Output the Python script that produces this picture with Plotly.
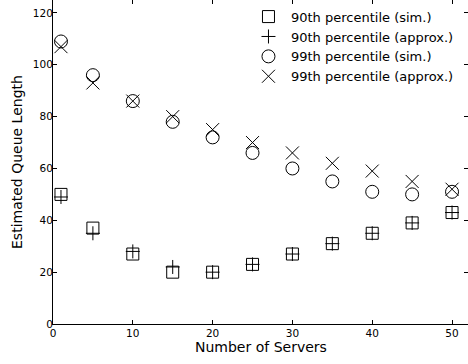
import plotly.graph_objects as go

servers = [1, 5, 10, 15, 20, 25, 30, 35, 40, 45, 50]
p90_sim = [50, 37, 27, 20, 20, 23, 27, 31, 35, 39, 43]
p90_approx = [49, 35, 28, 22, 20, 23, 27, 31, 35, 39, 43]
p99_sim = [109, 96, 86, 78, 72, 66, 60, 55, 51, 50, 51]
p99_approx = [107, 93, 86, 80, 75, 70, 66, 62, 59, 55, 52]

x_ticks = [0, 10, 20, 30, 40, 50]
y_ticks = [0, 20, 40, 60, 80, 100, 120]

series = [
    ("90th percentile (sim.)", p90_sim, "square-open", 12),
    ("90th percentile (approx.)", p90_approx, "cross-thin", 10),
    ("99th percentile (sim.)", p99_sim, "circle-open", 13),
    ("99th percentile (approx.)", p99_approx, "x-thin", 13),
]

fig = go.Figure()
for name, vals, sym, sz in series:
    fig.add_trace(go.Scatter(
        x=servers, y=vals, mode="markers", name=name,
        marker=dict(symbol=sym, size=sz, color="black",
                    line=dict(color="black", width=1)),
    ))

axis_common = dict(
    showgrid=False, zeroline=False, showline=True, linecolor="black",
    linewidth=1, mirror="ticks", ticks="inside", ticklen=4,
    tickcolor="black", tickfont=dict(size=10.5, color="black"),
    automargin=False,
)

fig.update_layout(
    width=468, height=364,
    margin=dict(l=53, r=0, t=0, b=40),
    plot_bgcolor="white", paper_bgcolor="white",
    font=dict(family="DejaVu Sans", color="black"),
    xaxis=dict(range=[0, 52], tickvals=x_ticks, ticklabelstandoff=-1,
               **axis_common),
    yaxis=dict(range=[0, 125], tickvals=y_ticks, ticklabelstandoff=-3,
               **axis_common),
    legend=dict(x=0.465, y=0.995, xanchor="left", yanchor="top",
                bgcolor="rgba(0,0,0,0)", font=dict(size=13), itemwidth=35,
                tracegroupgap=0),
    showlegend=True,
    annotations=[
        dict(text="Number of Servers", xref="paper", yref="paper",
             x=0.5, y=0, xanchor="center", yanchor="middle", yshift=-23,
             showarrow=False, font=dict(size=14)),
        dict(text="Estimated Queue Length", xref="paper", yref="paper",
             x=0, y=0.5, xanchor="center", yanchor="middle", xshift=-36,
             textangle=-90, showarrow=False, font=dict(size=14)),
    ],
)

fig.write_html("out.html", config={"displayModeBar": False},
               post_script="document.body.style.margin='0';document.body.style.overflow='hidden';")
